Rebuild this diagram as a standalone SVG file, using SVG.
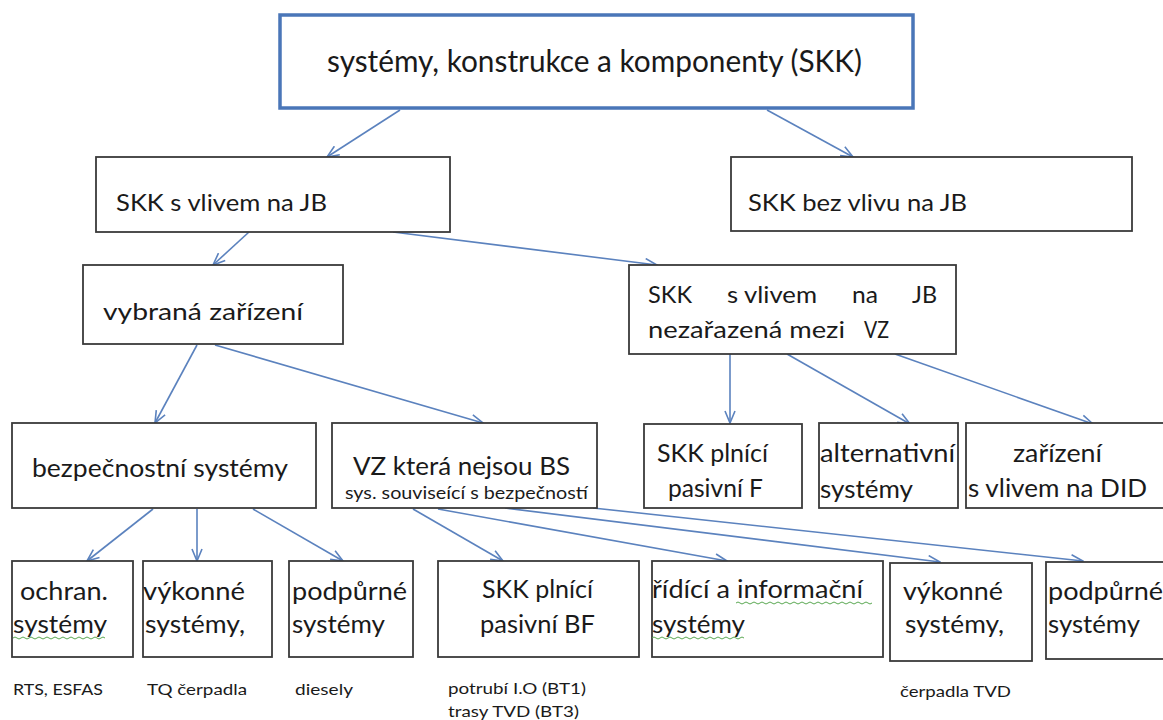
<svg xmlns="http://www.w3.org/2000/svg" width="1163" height="720" viewBox="0 0 1163 720">
<style>
.box{fill:#fff;stroke:#3a3a3a;stroke-width:1.8}
.top{fill:#fff;stroke:#4a76b8;stroke-width:3.5}
.t{font-family:Lato,"Liberation Sans",sans-serif;fill:#1a1a1a}
.l{font-size:25px}
.m{font-size:23px}
.s{font-size:16px}
.c{stroke:#5b82be;stroke-width:1.6;fill:none;marker-end:url(#ah)}
.sq{stroke:#5aa852;stroke-width:1;fill:none}
</style>
<defs>
<marker id="ah" viewBox="0 0 14 12" refX="13" refY="6" markerWidth="14" markerHeight="12" markerUnits="userSpaceOnUse" orient="auto">
<path d="M1,1 L13,6 L1,11" fill="none" stroke="#5b82be" stroke-width="1.6"/>
</marker>
<clipPath id="cVZ"><rect x="332" y="423" width="265" height="85"/></clipPath>
<clipPath id="cF"><rect x="644" y="424" width="158" height="84"/></clipPath>
<clipPath id="cAlt"><rect x="819" y="423" width="139" height="85"/></clipPath>
</defs>
<rect width="1163" height="720" fill="#fff"/>

<g id="connectors">
<line class="c" x1="400" y1="110" x2="327" y2="157"/>
<line class="c" x1="767" y1="110" x2="853" y2="157"/>
<line class="c" x1="249" y1="232" x2="213" y2="265"/>
<line class="c" x1="393" y1="232" x2="657" y2="265"/>
<line class="c" x1="197" y1="345" x2="155" y2="423"/>
<line class="c" x1="215" y1="345" x2="483" y2="423"/>
<line class="c" x1="730" y1="354" x2="730" y2="423"/>
<line class="c" x1="787" y1="354" x2="910" y2="424"/>
<line class="c" x1="895" y1="354" x2="1093" y2="424"/>
<line class="c" x1="153" y1="509" x2="87" y2="561"/>
<line class="c" x1="197" y1="509" x2="197" y2="561"/>
<line class="c" x1="253" y1="509" x2="343" y2="561"/>
<line class="c" x1="413" y1="509" x2="503" y2="561"/>
<line class="c" x1="438" y1="509" x2="727" y2="561"/>
<line class="c" x1="505" y1="508" x2="940" y2="562"/>
<line class="c" x1="593" y1="508" x2="1083" y2="561"/>
</g>

<g id="n-skk">
<rect class="top" x="280" y="15" width="633" height="93"/>
<text class="t" x="327" y="72" font-size="31" textLength="535" lengthAdjust="spacingAndGlyphs">systémy, konstrukce a komponenty (SKK)</text>
</g>

<g id="n-svlivem">
<rect class="box" x="96" y="157" width="354" height="75"/>
<text class="t m" x="116" y="211" textLength="211" lengthAdjust="spacingAndGlyphs">SKK s vlivem na JB</text>
</g>

<g id="n-bezvlivu">
<rect class="box" x="731" y="157" width="401" height="74"/>
<text class="t m" x="748" y="211" textLength="219" lengthAdjust="spacingAndGlyphs">SKK bez vlivu na JB</text>
</g>

<g id="n-vybrana">
<rect class="box" x="83" y="265" width="260" height="79"/>
<text class="t" x="103" y="320" font-size="24" textLength="200" lengthAdjust="spacingAndGlyphs">vybraná zařízení</text>
</g>

<g id="n-nezarazena">
<rect class="box" x="629" y="265" width="327" height="89"/>
<text class="t" font-size="23" y="303"><tspan x="648" textLength="44" lengthAdjust="spacingAndGlyphs">SKK</tspan><tspan x="727" textLength="90" lengthAdjust="spacingAndGlyphs">s vlivem</tspan><tspan x="852" textLength="26" lengthAdjust="spacingAndGlyphs">na</tspan><tspan x="912" textLength="25" lengthAdjust="spacingAndGlyphs">JB</tspan></text>
<text class="t" font-size="23" y="338"><tspan x="648" textLength="197" lengthAdjust="spacingAndGlyphs">nezařazená mezi</tspan><tspan x="864" textLength="25" lengthAdjust="spacingAndGlyphs">VZ</tspan></text>
</g>

<g id="n-bs">
<rect class="box" x="12" y="423" width="304" height="85"/>
<text class="t l" x="32" y="477" textLength="256" lengthAdjust="spacingAndGlyphs">bezpečnostní systémy</text>
</g>

<g id="n-vz">
<rect class="box" x="332" y="423" width="265" height="85"/>
<g clip-path="url(#cVZ)">
<text class="t l" x="353" y="475" textLength="217" lengthAdjust="spacingAndGlyphs">VZ která nejsou BS</text>
<text class="t" font-size="17" x="345" y="499" textLength="243" lengthAdjust="spacingAndGlyphs">sys. souviseící s bezpečností</text>
</g>
</g>

<g id="n-pasivniF">
<rect class="box" x="644" y="424" width="158" height="84"/>
<g clip-path="url(#cF)">
<text class="t l" x="657" y="462" textLength="111" lengthAdjust="spacingAndGlyphs">SKK plnící</text>
<text class="t l" x="668" y="497" textLength="95" lengthAdjust="spacingAndGlyphs">pasivní F</text>
</g>
</g>

<g id="n-alt">
<rect class="box" x="819" y="423" width="139" height="85"/>
<g clip-path="url(#cAlt)">
<text class="t l" x="820" y="462" textLength="135" lengthAdjust="spacingAndGlyphs">alternativní</text>
<text class="t l" x="820" y="498" textLength="93" lengthAdjust="spacingAndGlyphs">systémy</text>
</g>
</g>

<g id="n-did">
<rect class="box" x="966" y="423" width="204" height="85"/>
<text class="t l" x="1013" y="462" textLength="89" lengthAdjust="spacingAndGlyphs">zařízení</text>
<text class="t l" x="968" y="497" textLength="179" lengthAdjust="spacingAndGlyphs">s vlivem na DID</text>
</g>

<g id="n-ochran">
<rect class="box" x="12" y="561" width="121" height="96"/>
<text class="t l" x="20" y="600" textLength="88" lengthAdjust="spacingAndGlyphs">ochran.</text>
<text class="t l" x="13" y="633" textLength="94" lengthAdjust="spacingAndGlyphs">systémy</text>
<path class="sq" d="M13,638 q2,-2 4,0 t4,0 t4,0 t4,0 t4,0 t4,0 t4,0 t4,0 t4,0 t4,0 t4,0 t4,0 t4,0 t4,0 t4,0 t4,0 t4,0 t4,0 t4,0 t4,0 t4,0 t4,0 t4,0"/>
</g>

<g id="n-vykonne1">
<rect class="box" x="143" y="561" width="129" height="96"/>
<text class="t l" x="143" y="600" textLength="102" lengthAdjust="spacingAndGlyphs">výkonné</text>
<text class="t l" x="145" y="633" textLength="100" lengthAdjust="spacingAndGlyphs">systémy,</text>
</g>

<g id="n-podpurne1">
<rect class="box" x="289" y="561" width="124" height="96"/>
<text class="t l" x="292" y="600" textLength="115" lengthAdjust="spacingAndGlyphs">podpůrné</text>
<text class="t l" x="292" y="633" textLength="93" lengthAdjust="spacingAndGlyphs">systémy</text>
</g>

<g id="n-pasivniBF">
<rect class="box" x="438" y="561" width="201" height="96"/>
<text class="t l" x="482" y="598" textLength="111" lengthAdjust="spacingAndGlyphs">SKK plnící</text>
<text class="t l" x="480" y="633" textLength="115" lengthAdjust="spacingAndGlyphs">pasivní BF</text>
</g>

<g id="n-ridici">
<rect class="box" x="652" y="561" width="231" height="96"/>
<text class="t l" x="652" y="598" textLength="211" lengthAdjust="spacingAndGlyphs">řídící a informační</text>
<text class="t l" x="652" y="633" textLength="93" lengthAdjust="spacingAndGlyphs">systémy</text>
<path class="sq" d="M736,603 q2,-2 4,0 t4,0 t4,0 t4,0 t4,0 t4,0 t4,0 t4,0 t4,0 t4,0 t4,0 t4,0 t4,0 t4,0 t4,0 t4,0 t4,0 t4,0 t4,0 t4,0 t4,0 t4,0 t4,0 t4,0 t4,0 t4,0 t4,0 t4,0 t4,0 t4,0 t4,0 t4,0 t4,0 t4,0"/>
<path class="sq" d="M652,638 q2,-2 4,0 t4,0 t4,0 t4,0 t4,0 t4,0 t4,0 t4,0 t4,0 t4,0 t4,0 t4,0 t4,0 t4,0 t4,0 t4,0 t4,0 t4,0 t4,0 t4,0 t4,0 t4,0 t4,0"/>
</g>

<g id="n-vykonne2">
<rect class="box" x="890" y="563" width="142" height="98"/>
<text class="t l" x="903" y="600" textLength="100" lengthAdjust="spacingAndGlyphs">výkonné</text>
<text class="t l" x="905" y="633" textLength="99" lengthAdjust="spacingAndGlyphs">systémy,</text>
</g>

<g id="n-podpurne2">
<rect class="box" x="1046" y="562" width="124" height="97"/>
<text class="t l" x="1048" y="600" textLength="115" lengthAdjust="spacingAndGlyphs">podpůrné</text>
<text class="t l" x="1048" y="633" textLength="92" lengthAdjust="spacingAndGlyphs">systémy</text>
</g>

<g id="labels">
<text class="t s" x="13" y="695" textLength="90" lengthAdjust="spacingAndGlyphs">RTS, ESFAS</text>
<text class="t s" x="147" y="695" textLength="100" lengthAdjust="spacingAndGlyphs">TQ čerpadla</text>
<text class="t s" x="295" y="695" textLength="58" lengthAdjust="spacingAndGlyphs">diesely</text>
<text class="t s" x="448" y="694" textLength="138" lengthAdjust="spacingAndGlyphs">potrubí I.O (BT1)</text>
<text class="t s" x="448" y="717" textLength="131" lengthAdjust="spacingAndGlyphs">trasy TVD (BT3)</text>
<text class="t s" x="900" y="697" textLength="111" lengthAdjust="spacingAndGlyphs">čerpadla TVD</text>
</g>
</svg>
